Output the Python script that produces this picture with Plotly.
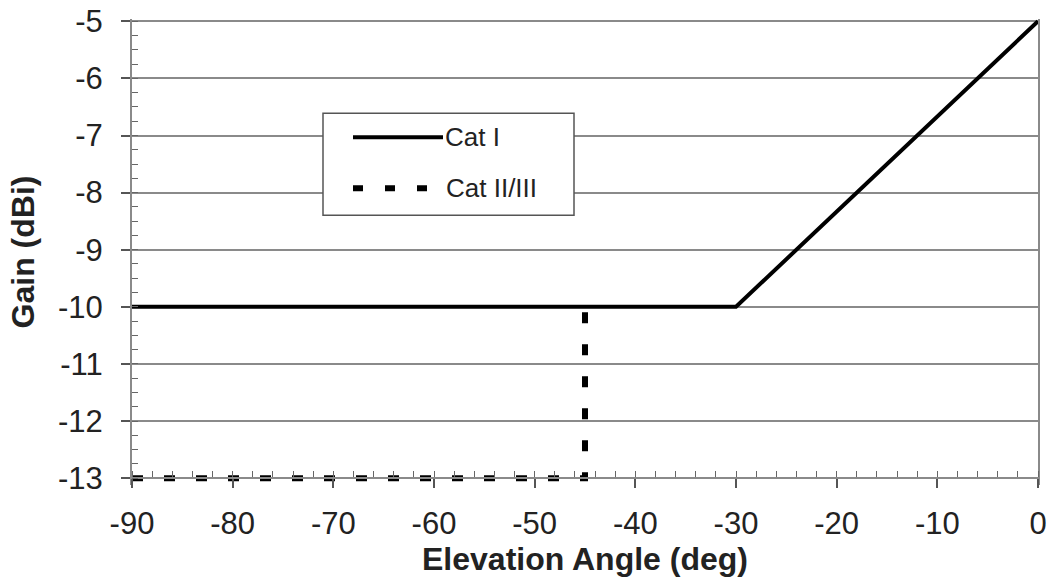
import plotly.graph_objects as go

# Data
cat1_x = [-90, -30, 0]
cat1_y = [-10, -10, -5]
cat2_x = [-90, -45, -45]
cat2_y = [-13, -13, -10]
x_ticks = [-90, -80, -70, -60, -50, -40, -30, -20, -10, 0]
y_ticks = [-5, -6, -7, -8, -9, -10, -11, -12, -13]
series_names = ["Cat I", "Cat II/III"]

FONT = "Liberation Sans, Arial, sans-serif"
GRID = "#8a8a8a"
DASH = "11px,21px"
TXT = "#222"

fig = go.Figure()
fig.add_trace(go.Scatter(x=cat1_x, y=cat1_y, mode="lines",
                         line=dict(color="black", width=4), name=series_names[0],
                         showlegend=False))
fig.add_trace(go.Scatter(x=cat2_x, y=cat2_y, mode="lines",
                         line=dict(color="black", width=6, dash=DASH), name=series_names[1],
                         showlegend=False))

W, H = 1050, 581
L, R = 132, 12
TOP_Y = 21                         # pixel row of value -5
AXIS_Y = 478                       # pixel row of the x axis (value -13)
unit = (AXIS_Y - TOP_Y) / 8.0      # px per dB
y_lo = -13.12                      # room below the axis so the dashed line is not clipped
y_hi = -4.96                       # room above so the top gridline is kept
T = TOP_Y - (y_hi + 5) * unit
ph = unit * (y_hi - y_lo)
B = H - T - ph
pw = W - L - R
x_axis_pos = (-13 - y_lo) / (y_hi - y_lo)

def px(xp):
    return (xp - L) / pw

def py(yp):
    return (H - B - yp) / ph

shapes = [
    dict(type="rect", xref="paper", yref="paper", x0=px(323), x1=px(574), y0=py(215), y1=py(113),
         line=dict(color="#555555", width=1.5), fillcolor="white", layer="above"),
    dict(type="line", xref="paper", yref="paper", x0=px(353), x1=px(443), y0=py(137), y1=py(137),
         line=dict(color="black", width=4), layer="above"),
    dict(type="line", xref="paper", yref="paper", x0=px(353), x1=px(431), y0=py(188), y1=py(188),
         line=dict(color="black", width=6, dash="10px,22px"), layer="above"),
]
annotations = [
    dict(xref="paper", yref="paper", x=px(443), y=py(137), text=series_names[0], showarrow=False,
         xanchor="left", yanchor="middle", font=dict(family=FONT, size=26, color=TXT)),
    dict(xref="paper", yref="paper", x=px(444), y=py(188), text=series_names[1], showarrow=False,
         xanchor="left", yanchor="middle", font=dict(family=FONT, size=26, color=TXT)),
]

fig.update_layout(
    width=W, height=H,
    margin=dict(l=L, r=R, t=T, b=B, autoexpand=False),
    paper_bgcolor="white", plot_bgcolor="white",
    font=dict(family=FONT, color=TXT),
    shapes=shapes, annotations=annotations,
    showlegend=False,
)
fig.update_xaxes(
    range=[-90, 0], tickvals=x_ticks, ticktext=[str(v) for v in x_ticks],
    tickfont=dict(size=31, family=FONT, color=TXT),
    showgrid=False, zeroline=False, automargin=False,
    anchor="free", position=x_axis_pos,
    showline=True, linecolor=GRID, linewidth=2,
    ticks="outside", ticklen=9, tickwidth=1.5, tickcolor="#555",
    minor=dict(dtick=2, ticks="inside", ticklen=6, tickwidth=1, tickcolor="#666", showgrid=False),
    title=dict(text="<b>Elevation Angle (deg)</b>", font=dict(size=32, family=FONT, color=TXT), standoff=0),
    ticklabelstandoff=9, ticklabeloverflow="allow",
)
fig.update_yaxes(
    range=[y_lo, y_hi], tickvals=y_ticks, ticktext=[str(v) for v in y_ticks],
    tickfont=dict(size=31, family=FONT, color=TXT),
    showgrid=True, gridcolor=GRID, gridwidth=2, zeroline=False, automargin=False,
    showline=True, linecolor=GRID, linewidth=2, mirror=True,
    ticks="outside", ticklen=9, tickwidth=1.5, tickcolor="#555",
    minor=dict(dtick=0.25, ticks="inside", ticklen=6, tickwidth=1, tickcolor="#666", showgrid=False),
    title=dict(text="<b>Gain (dBi)</b>", font=dict(size=32, family=FONT, color=TXT), standoff=14),
    ticklabelstandoff=12, ticklabeloverflow="allow",
)

fig.write_html("out.html", config={"displayModeBar": False},
               post_script="document.body.style.margin='0px';document.body.style.overflow='hidden';")
